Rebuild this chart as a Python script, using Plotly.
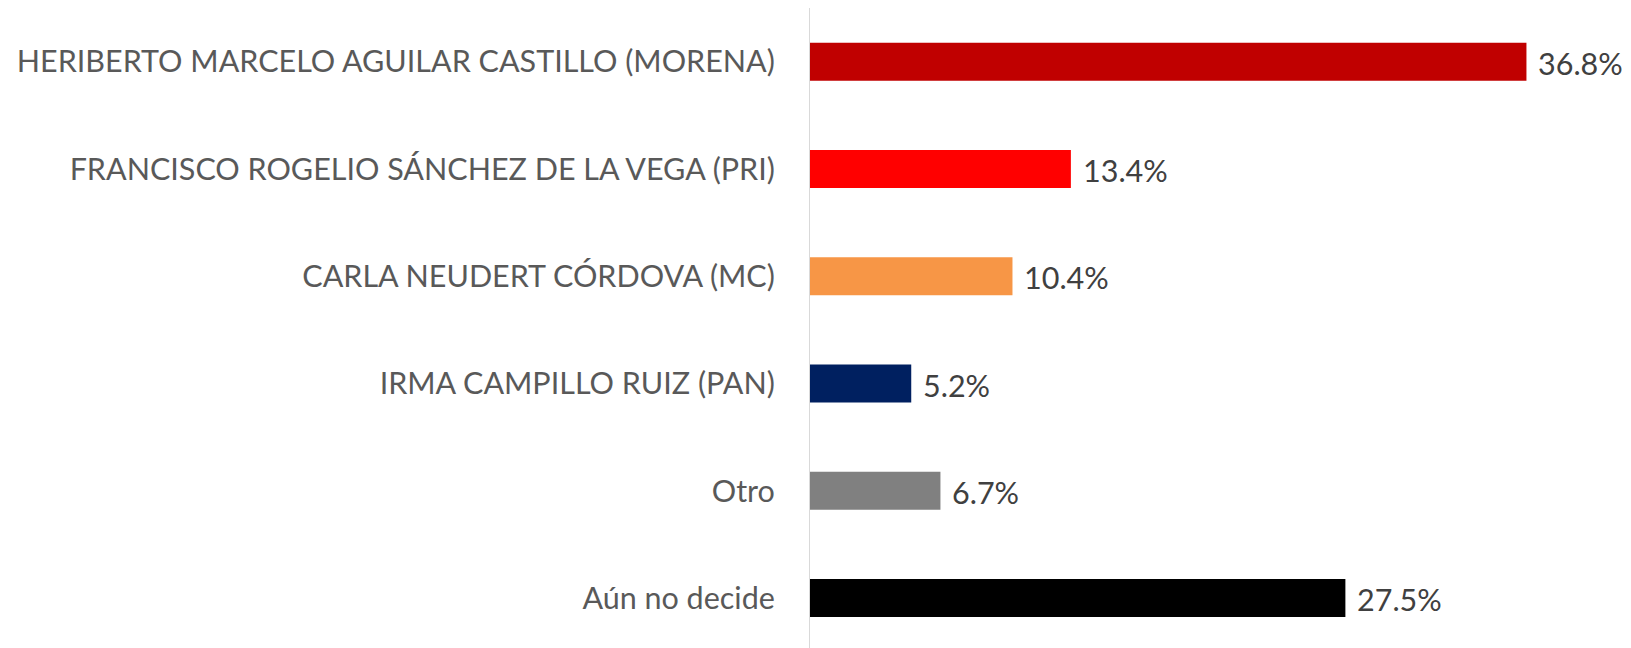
import plotly.graph_objects as go

categories = [
    "HERIBERTO MARCELO AGUILAR CASTILLO (MORENA)",
    "FRANCISCO ROGELIO SÁNCHEZ DE LA VEGA (PRI)",
    "CARLA NEUDERT CÓRDOVA (MC)",
    "IRMA CAMPILLO RUIZ (PAN)",
    "Otro",
    "Aún no decide",
]
values = [36.8, 13.4, 10.4, 5.2, 6.7, 27.5]
labels = ["36.8%", "13.4%", "10.4%", "5.2%", "6.7%", "27.5%"]
colors = ["#C00000", "#FF0000", "#F79646", "#002060", "#808080", "#000000"]

FONT = "Lato"

fig = go.Figure()
fig.add_trace(go.Bar(
    y=categories, x=values, orientation="h",
    marker=dict(color=colors, line=dict(width=0)),
    width=0.354, hoverinfo="skip",
))
for c, v, t in zip(categories, values, labels):
    fig.add_annotation(x=v, y=c, text=t, showarrow=False, xanchor="left",
                       xshift=10, yshift=-1,
                       font=dict(family=FONT, size=30.5, color="#404040"))

# page body has an 8px default margin; compensate so plot sits at the reference position
fig.update_layout(
    width=1623, height=640,
    margin=dict(l=802, r=0, t=0, b=0),
    paper_bgcolor="white", plot_bgcolor="white",
    showlegend=False,
    font=dict(family=FONT, size=30.5, color="#595959"),
)
fig.update_xaxes(range=[0, 42.17], visible=False, showgrid=False, zeroline=False)
fig.update_yaxes(type="category", categoryorder="array", categoryarray=categories,
                 range=[5.465, -0.5], showgrid=False, zeroline=False,
                 showline=True, linecolor="#D9D9D9", linewidth=1,
                 ticks="", ticklabelstandoff=28,
                 tickfont=dict(family=FONT, size=30.5, color="#595959"))
fig.write_html("out.html")
